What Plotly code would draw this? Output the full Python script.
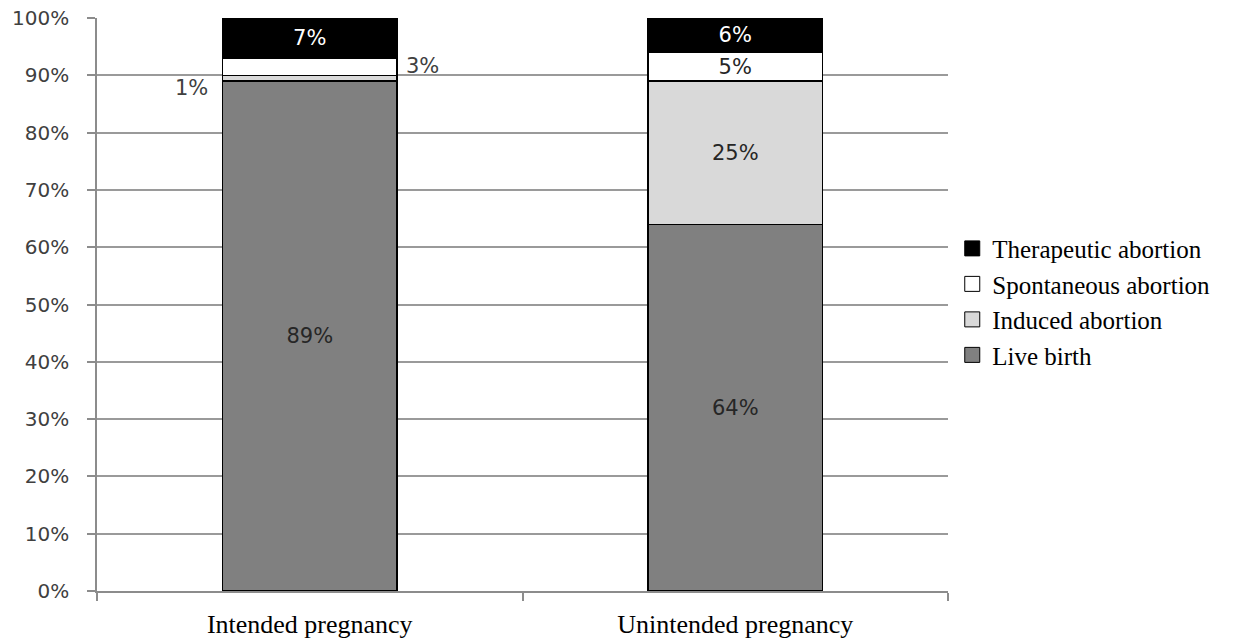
import plotly.graph_objects as go

categories = ["Intended pregnancy", "Unintended pregnancy"]
series_names = ["Live birth", "Induced abortion", "Spontaneous abortion", "Therapeutic abortion"]
live_birth = [89, 64]
induced_abortion = [1, 25]
spontaneous_abortion = [3, 5]
therapeutic_abortion = [7, 6]
y_ticks = [0, 10, 20, 30, 40, 50, 60, 70, 80, 90, 100]

series_values = [live_birth, induced_abortion, spontaneous_abortion, therapeutic_abortion]
colors = ["#808080", "#d9d9d9", "#ffffff", "#000000"]
text_colors = ["#262626", "#262626", "#262626", "#ffffff"]

SANS = "DejaVu Sans"
SERIF = "Liberation Serif"

fig = go.Figure()

# which labels sit outside the bar (small segments of the intended bar)
outside = {(1, 0): "left", (2, 0): "right"}

for s, (name, vals) in enumerate(zip(series_names, series_values)):
    texts = []
    positions = []
    for c, v in enumerate(vals):
        texts.append(f"{v}%")
        positions.append("none" if (s, c) in outside else "inside")
    fig.add_trace(go.Bar(
        x=categories, y=vals, name=name,
        marker=dict(color=colors[s], line=dict(color="#000000", width=1.5)),
        text=texts, textposition=positions, insidetextanchor="middle",
        constraintext="none",
        textfont=dict(family=SANS, size=21, color=text_colors[s]),
        width=0.41, showlegend=False, hoverinfo="skip",
    ))

# outside labels for thin segments
for (s, c), side in outside.items():
    base = sum(series_values[k][c] for k in range(s))
    mid = base + series_values[s][c] / 2
    fig.add_annotation(
        x=c, y=mid, xref="x", yref="y",
        text=f"{series_values[s][c]}%", showarrow=False,
        xanchor="right" if side == "left" else "left",
        xshift=-100 if side == "left" else 94,
        yshift=-10 if side == "left" else 1,
        font=dict(family=SANS, size=21, color="#404040"),
    )

# legend entries (top to bottom)
for s in [3, 2, 1, 0]:
    fig.add_trace(go.Scatter(
        x=[None], y=[None], mode="markers", name=series_names[s],
        marker=dict(symbol="square", size=15, color=colors[s],
                    line=dict(color="#000000", width=1)),
    ))

fig.update_layout(
    width=1245, height=641,
    margin=dict(l=97, r=297, t=18, b=50),
    paper_bgcolor="#ffffff", plot_bgcolor="#ffffff",
    barmode="stack",
    showlegend=True,
    legend=dict(
        x=1.005, y=0.505, xanchor="left", yanchor="middle",
        traceorder="normal",
        font=dict(family=SERIF, size=25, color="#000000"),
        bgcolor="rgba(0,0,0,0)", tracegroupgap=0, itemwidth=30,
    ),
    xaxis=dict(
        type="category", tickson="boundaries", ticks="outside", ticklen=8,
        tickcolor="#8c8c8c", tickwidth=1.5,
        showline=True, linecolor="#8c8c8c", linewidth=1.5,
        showgrid=False, automargin=False,
        tickfont=dict(family=SERIF, size=26, color="#000000"),
        ticklabelstandoff=9,
    ),
    yaxis=dict(
        range=[0, 100], tickvals=y_ticks, ticktext=[f"{t}%" for t in y_ticks],
        ticks="outside", ticklen=8, tickcolor="#8c8c8c", tickwidth=1.5,
        showline=True, linecolor="#8c8c8c", linewidth=1.5,
        showgrid=True, gridcolor="#9a9a9a", gridwidth=1.5,
        zeroline=False, automargin=False,
        tickfont=dict(family=SANS, size=20, color="#404040"),
        ticklabelstandoff=14,
    ),
)

fig.write_html("out.html")
